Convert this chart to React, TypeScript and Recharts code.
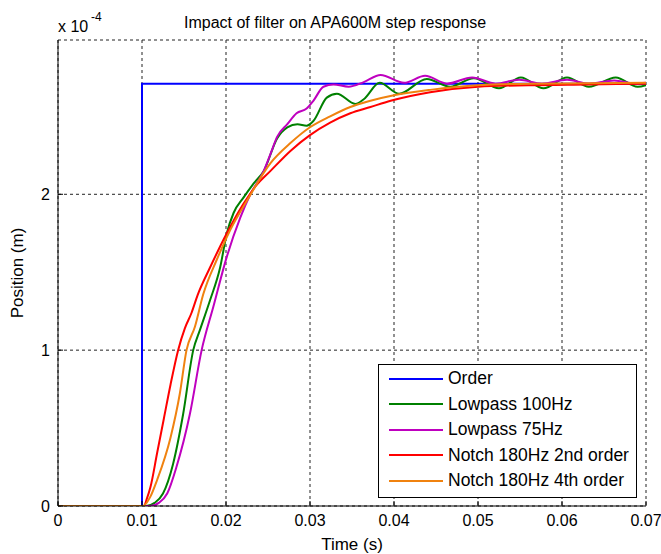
import React from 'react';
import { LineChart, Line, XAxis, YAxis, CartesianGrid, Legend } from 'recharts';

const FONT = '"Liberation Sans", Arial, Helvetica, sans-serif';

const xTicks = [0, 0.01, 0.02, 0.03, 0.04, 0.05, 0.06, 0.07];
const yTicks = [0, 1, 2];

const orderT = [0, 0.01, 0.01, 0.07];
const orderY = [0, 0, 2.71, 2.71];

const lp100T = [0, 0.0105, 0.0115, 0.0125, 0.0137, 0.0149, 0.0161, 0.0169, 0.0181, 0.0193, 0.0201, 0.0209, 0.0221, 0.0233, 0.0245, 0.0261, 0.0273, 0.0285, 0.0296, 0.0304, 0.032, 0.0332, 0.0354, 0.0364, 0.0383, 0.0406, 0.0439, 0.0467, 0.0495, 0.0525, 0.0551, 0.0578, 0.0606, 0.0632, 0.0664, 0.069, 0.07];
const lp100Y = [0, 0, 0.02, 0.08, 0.27, 0.59, 1.0, 1.13, 1.32, 1.53, 1.75, 1.88, 1.98, 2.07, 2.15, 2.36, 2.43, 2.45, 2.44, 2.47, 2.62, 2.645, 2.58, 2.61, 2.715, 2.645, 2.74, 2.69, 2.745, 2.68, 2.75, 2.68, 2.75, 2.69, 2.75, 2.69, 2.7];

const lp75T = [0, 0.011, 0.012, 0.013, 0.0141, 0.0157, 0.0171, 0.0185, 0.0201, 0.0217, 0.0229, 0.0245, 0.0253, 0.0261, 0.0273, 0.0284, 0.0296, 0.0304, 0.0316, 0.0328, 0.0346, 0.0364, 0.0384, 0.0412, 0.0437, 0.0463, 0.0493, 0.0521, 0.0549, 0.0576, 0.0606, 0.0632, 0.0662, 0.0688, 0.07];
const lp75Y = [0, 0, 0.02, 0.08, 0.25, 0.59, 1.0, 1.28, 1.6, 1.85, 2.0, 2.15, 2.26, 2.37, 2.45, 2.52, 2.55, 2.6, 2.69, 2.705, 2.69, 2.72, 2.765, 2.715, 2.76, 2.71, 2.75, 2.71, 2.735, 2.71, 2.735, 2.71, 2.73, 2.71, 2.715];

const notch2T = [0, 0.0102, 0.0106, 0.011, 0.0118, 0.0126, 0.0134, 0.0143, 0.0151, 0.0159, 0.0166, 0.0181, 0.0201, 0.0221, 0.0235, 0.0253, 0.0277, 0.03, 0.0324, 0.0348, 0.0372, 0.0396, 0.0443, 0.05, 0.056, 0.063, 0.07];
const notch2Y = [0, 0, 0.05, 0.12, 0.34, 0.56, 0.78, 1.0, 1.14, 1.24, 1.35, 1.53, 1.75, 1.94, 2.05, 2.15, 2.28, 2.38, 2.46, 2.52, 2.56, 2.6, 2.655, 2.69, 2.7, 2.705, 2.71];

const notch4T = [0, 0.0101, 0.011, 0.0118, 0.0134, 0.0145, 0.0153, 0.0163, 0.0173, 0.0189, 0.0205, 0.0225, 0.0253, 0.0277, 0.03, 0.0324, 0.0348, 0.0372, 0.04, 0.0443, 0.05, 0.0563, 0.07];
const notch4Y = [0, 0, 0.06, 0.167, 0.44, 0.72, 1.0, 1.15, 1.36, 1.58, 1.77, 1.96, 2.2, 2.33, 2.43, 2.5, 2.56, 2.6, 2.635, 2.67, 2.7, 2.71, 2.715];

const toPoints = (t: number[], y: number[]) => t.map((x, i) => ({ t: x, y: y[i] }));

const series = [
  { name: 'Order', color: '#0000ff', data: toPoints(orderT, orderY), curve: 'linear' },
  { name: 'Lowpass 100Hz', color: '#008000', data: toPoints(lp100T, lp100Y), curve: 'monotone' },
  { name: 'Lowpass 75Hz', color: '#bf00bf', data: toPoints(lp75T, lp75Y), curve: 'monotone' },
  { name: 'Notch 180Hz 2nd order', color: '#ff0000', data: toPoints(notch2T, notch2Y), curve: 'monotone' },
  { name: 'Notch 180Hz 4th order', color: '#f0820f', data: toPoints(notch4T, notch4Y), curve: 'monotone' },
];

const LegendBox = () => (
  <div
    style={{
      boxSizing: 'border-box',
      width: 259,
      height: 134,
      border: '1px solid #000',
      background: '#fff',
      paddingTop: 1,
      fontFamily: FONT,
      fontSize: 17.5,
      color: '#000',
    }}
  >
    {series.map((s) => (
      <div key={s.name} style={{ height: 25.5, display: 'flex', alignItems: 'center' }}>
        <div style={{ marginLeft: 10, width: 54, height: 2, background: s.color }} />
        <span style={{ marginLeft: 5, whiteSpace: 'nowrap' }}>{s.name}</span>
      </div>
    ))}
  </div>
);

export default function App() {
  const tickStyle = { fill: '#000', fontSize: 16, fontFamily: FONT };
  return (
    <div style={{ position: 'absolute', left: 0, top: 0, width: 661, height: 554, background: '#fff' }}>
      <LineChart width={661} height={554} margin={{ top: 40, right: 15, bottom: 0, left: 0 }}>
        <CartesianGrid stroke="#222" strokeDasharray="3 3" />
        <XAxis
          dataKey="t"
          type="number"
          domain={[0, 0.07]}
          ticks={xTicks}
          allowDataOverflow
          height={48}
          stroke="#000"
          tickSize={-5}
          tickMargin={14}
          tick={tickStyle}
          tickFormatter={(v: number) => String(v)}
          label={{ value: 'Time (s)', position: 'insideBottom', offset: 4, fill: '#000', fontSize: 17, fontFamily: FONT }}
        />
        <YAxis
          type="number"
          domain={[0, 2.99]}
          ticks={yTicks}
          allowDataOverflow
          width={58}
          stroke="#000"
          tickSize={-5}
          tickMargin={13}
          tick={tickStyle}
          tickFormatter={(v: number) => String(v)}
          label={{
            content: () => (
              <text x={23} y={273} transform="rotate(-90 23 273)" textAnchor="middle" fill="#000" fontSize={17} fontFamily={FONT}>
                Position (m)
              </text>
            ),
          }}
        />
        {series.map((s) => (
          <Line
            key={s.name}
            data={s.data}
            dataKey="y"
            name={s.name}
            type={s.curve as any}
            stroke={s.color}
            strokeWidth={2}
            dot={false}
            activeDot={false}
            isAnimationActive={false}
          />
        ))}
        <Legend
          layout="vertical"
          align="center"
          verticalAlign="middle"
          content={<LegendBox />}
          wrapperStyle={{ position: 'absolute', left: 378, top: 364, width: 259, height: 134 }}
        />
      </LineChart>
      <svg width={661} height={554} style={{ position: 'absolute', left: 0, top: 0, pointerEvents: 'none' }}>
        <text x={335} y={28} textAnchor="middle" fill="#000" fontSize={16} fontFamily={FONT}>
          Impact of filter on APA600M step response
        </text>
        <text x={58} y={32} fill="#000" fontSize={16} fontFamily={FONT}>
          x 10
        </text>
        <text x={91} y={21} fill="#000" fontSize={12} fontFamily={FONT}>
          -4
        </text>
      </svg>
    </div>
  );
}
